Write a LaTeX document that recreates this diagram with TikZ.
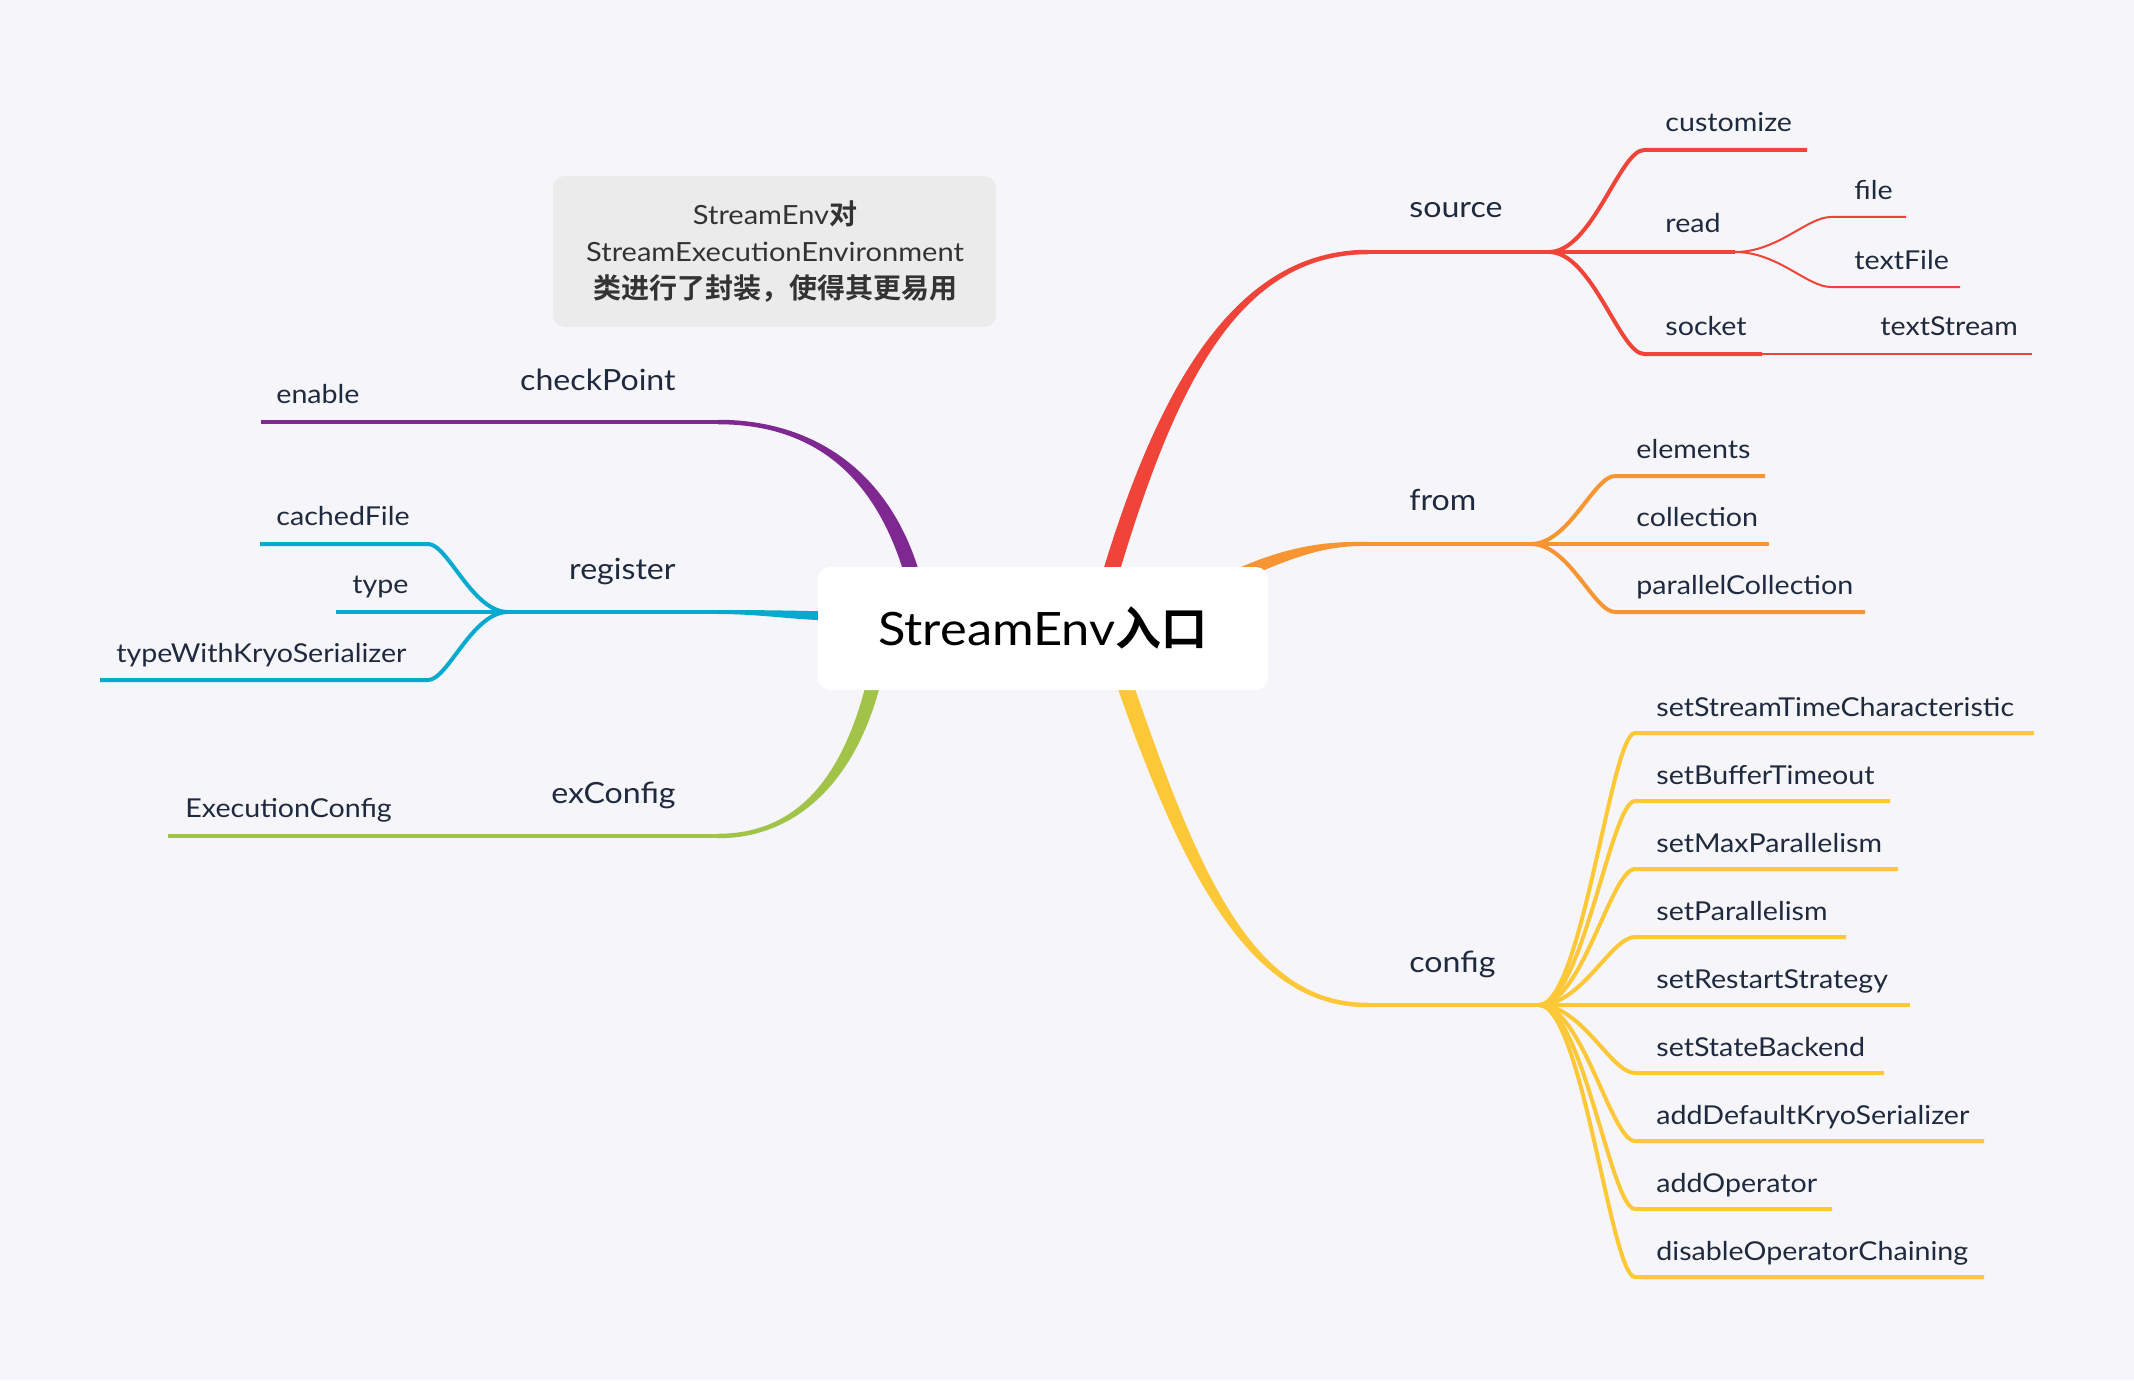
\documentclass[tikz,border=0pt]{standalone}
\usepackage{fontspec}
\setmainfont{Lato}[FakeStretch=1.1]
\newfontfamily\cjkb{Noto Sans CJK SC}[UprightFont=* Bold]
\usetikzlibrary{calc}
\definecolor{bgc}{RGB}{245,245,250}
\definecolor{cred}{RGB}{240,68,56}
\definecolor{corange}{RGB}{247,149,50}
\definecolor{cyellow}{RGB}{253,200,55}
\definecolor{cpurple}{RGB}{128,40,146}
\definecolor{ccyan}{RGB}{6,170,206}
\definecolor{cgreen}{RGB}{161,195,72}
\definecolor{txt}{RGB}{32,42,62}
\definecolor{notebg}{RGB}{235,235,235}
\definecolor{notetxt}{RGB}{51,51,51}
% tapered main branch: #1 colour, #2 start coord, #3 c1, #4 c2, #5 end coord, #6,#7 half-width normal at start, #8 signed half-width at end
\newcommand\mmtaper[8]{%
  \fill[#1] ($(#2)+(#6,#7)$) .. controls ($#3+(#6,#7)$) and ($#4+(0,#8)$) .. ($(#5)+(0,#8)$)
    -- ($(#5)-(0,#8)$) .. controls ($#4-(0,#8)$) and ($#3-(#6,#7)$) .. ($(#2)-(#6,#7)$) -- cycle;}
\begin{document}
\begin{tikzpicture}[x=0.5pt,y=-0.5pt,
  lbl/.style={inner sep=0pt, text=txt, font=\fontsize{13}{15}\selectfont},
  blbl/.style={inner sep=0pt, text=txt, font=\fontsize{14.6}{17}\selectfont},
  ln/.style={line width=2pt},
  mainln/.style={line width=2.25pt},
  thinln/.style={line width=1pt},
  rc/.style 2 args={to path={.. controls ($(\tikztostart)+(#1,0)$) and ($(\tikztotarget)+(#2,0)$) .. (\tikztotarget)}},
]
\fill[bgc] (0,0) rectangle (2134,1380);
\useasboundingbox (0,0) rectangle (2134,1380);

% ---------- coordinates ----------
\coordinate (srcA) at (1108,582);  \coordinate (srcB) at (1368,252);  \coordinate (srcP) at (1549,252);
\coordinate (fromA) at (1240,574); \coordinate (fromB) at (1368,544); \coordinate (fromP) at (1531,544);
\coordinate (cfgA) at (1122,676);  \coordinate (cfgB) at (1367,1005); \coordinate (cfgP) at (1539,1005);
\coordinate (cpA) at (914,581);    \coordinate (cpB) at (718,422);
\coordinate (regA) at (830,616);   \coordinate (regB) at (718,612);   \coordinate (regP) at (508,612);
\coordinate (exA) at (875.4,675.4);\coordinate (exB) at (718,836);

% ---------- main branches ----------
\mmtaper{cred}{srcA}{(1165,390)}{(1235,252)}{srcB}{7.7}{2.3}{2.25}
\mmtaper{corange}{fromA}{(1290,552)}{(1325,543)}{fromB}{2.4}{5.5}{2}
\mmtaper{cyellow}{cfgA}{(1189,870)}{(1250,1005)}{cfgB}{-7.6}{2.6}{2.25}
\mmtaper{cpurple}{cpA}{(885,475)}{(815,422)}{cpB}{7.2}{-2}{-2.25}
\mmtaper{ccyan}{regA}{(790,615)}{(760,612)}{regB}{0}{-4.5}{-2}
\mmtaper{cgreen}{exA}{(852,775)}{(800,836)}{exB}{-6.8}{-1.6}{-2.25}

% ---------- source ----------
\draw[cred, mainln] (srcB) -- (srcP);
\draw[cred, ln] (srcP) to[rc={43}{-24}] (1644,150) coordinate (cust0) -- (1807,150) coordinate (cust1);
\draw[cred, ln] (srcP) -- (1735,252) coordinate (read1);
\draw[cred, ln] (srcP) to[rc={43}{-24}] (1644,354) coordinate (sock0) -- (1762,354) coordinate (sock1);
\draw[cred, thinln] (sock1) -- (2032,354) coordinate (ts1);
\draw[cred, thinln] (read1) to[rc={43}{-24}] (1831,217) coordinate (file0) -- (1906,217) coordinate (file1);
\draw[cred, thinln] (read1) to[rc={43}{-24}] (1831,287) coordinate (tf0) -- (1960,287) coordinate (tf1);

% ---------- from ----------
\draw[corange, mainln] (fromB) -- (fromP);
\draw[corange, ln] (fromP) to[rc={38}{-21}] (1615,476) coordinate (el0) -- (1765,476) coordinate (el1);
\draw[corange, ln] (fromP) -- (1769,544) coordinate (col1);
\draw[corange, ln] (fromP) to[rc={38}{-21}] (1615,612) coordinate (pc0) -- (1865,612) coordinate (pc1);

% ---------- config ----------
\draw[cyellow, mainln] (cfgB) -- (cfgP);
\foreach \yy/\xe/\nm in {733/2034/a,801/1890/b,869/1898/c,937/1846/d,1005/1910/e,1073/1884/f,1141/1984/g,1209/1832/h,1277/1984/i}{
  \draw[cyellow, ln] (cfgP) to[rc={43}{-24}] (1635,\yy) coordinate (cf\nm0) -- (\xe,\yy) coordinate (cf\nm1);
}

% ---------- checkPoint ----------
\draw[cpurple, mainln] (cpB) -- (261,422) coordinate (en1);

% ---------- register ----------
\draw[ccyan, mainln] (regB) -- (regP);
\draw[ccyan, ln] (regP) to[rc={-36}{20}] (428,544) coordinate (cfl0) -- (260,544) coordinate (cfl1);
\draw[ccyan, ln] (regP) -- (336,612) coordinate (ty1);
\draw[ccyan, ln] (regP) to[rc={-36}{20}] (428,680) coordinate (tk0) -- (100,680) coordinate (tk1);

% ---------- exConfig ----------
\draw[cgreen, mainln] (exB) -- (168,836) coordinate (ec1);

% ---------- root and note ----------
\node[fill=white, rounded corners=6pt, minimum width=225pt, minimum height=61.5pt, inner sep=0pt,
      text height=16.5pt, text depth=0pt, font=\fontsize{23}{26}\selectfont, text=black]
      (root) at (1043,628.5) {StreamEnv{\cjkb 入口}};
\node[fill=notebg, rounded corners=6pt, minimum width=221.5pt, minimum height=75.5pt, inner sep=0pt]
      (note) at (774.5,251.5) {};
\begin{scope}[every node/.style={inner sep=0pt, anchor=base, text=notetxt, font=\fontsize{13.2}{15}\selectfont}]
\node (note1) at (775,225) {StreamEnv{\cjkb\fontsize{14}{16}\selectfont 对}};
\node (note2) at (775,262) {StreamExecutionEnvironment};
\node (note3) at (775,298) {\cjkb\fontsize{14}{16}\selectfont 类进行了封装，使得其更易用};
\end{scope}

% ---------- labels ----------
\node[blbl, anchor=base west] (lsource) at (1409,218) {source};
\node[blbl, anchor=base west] (lfrom) at (1409,510) {from};
\node[blbl, anchor=base west] (lconfig) at (1409,972) {config};
\node[lbl, anchor=base west] (lcust) at (1665,132) {customize};
\node[lbl, anchor=base west] (lread) at (1665,233) {read};
\node[lbl, anchor=base west] (lsock) at (1665,335) {socket};
\node[lbl, anchor=base west] (lfile) at (1854,200) {file};
\node[lbl, anchor=base west] (ltf) at (1854,270) {textFile};
\node[lbl, anchor=base west] (lts) at (1880,335) {textStream};
\node[lbl, anchor=base west] (lel) at (1636,458) {elements};
\node[lbl, anchor=base west] (lcol) at (1636,526) {collection};
\node[lbl, anchor=base west] (lpc) at (1636,594) {parallelCollection};
\foreach \yy/\tx/\nm in {733/setStreamTimeCharacteristic/a,801/setBufferTimeout/b,869/setMaxParallelism/c,937/setParallelism/d,1005/setRestartStrategy/e,1073/setStateBackend/f,1141/addDefaultKryoSerializer/g,1209/addOperator/h,1277/disableOperatorChaining/i}{
  \node[lbl, anchor=base west] (lc\nm) at (1656,\yy-17) {\tx};
}
\node[blbl, anchor=base east] (lcp) at (676,390) {checkPoint};
\node[lbl, anchor=base west] (len) at (276,403) {enable};
\node[blbl, anchor=base east] (lreg) at (676,579) {register};
\node[lbl, anchor=base west] (lcf) at (276,525) {cachedFile};
\node[lbl, anchor=base west] (lty) at (352,593) {type};
\node[lbl, anchor=base west] (ltk) at (116,662) {typeWithKryoSerializer};
\node[blbl, anchor=base east] (lex) at (676,803) {exConfig};
\node[lbl, anchor=base west] (lec) at (185,817) {ExecutionConfig};
\end{tikzpicture}
\end{document}
